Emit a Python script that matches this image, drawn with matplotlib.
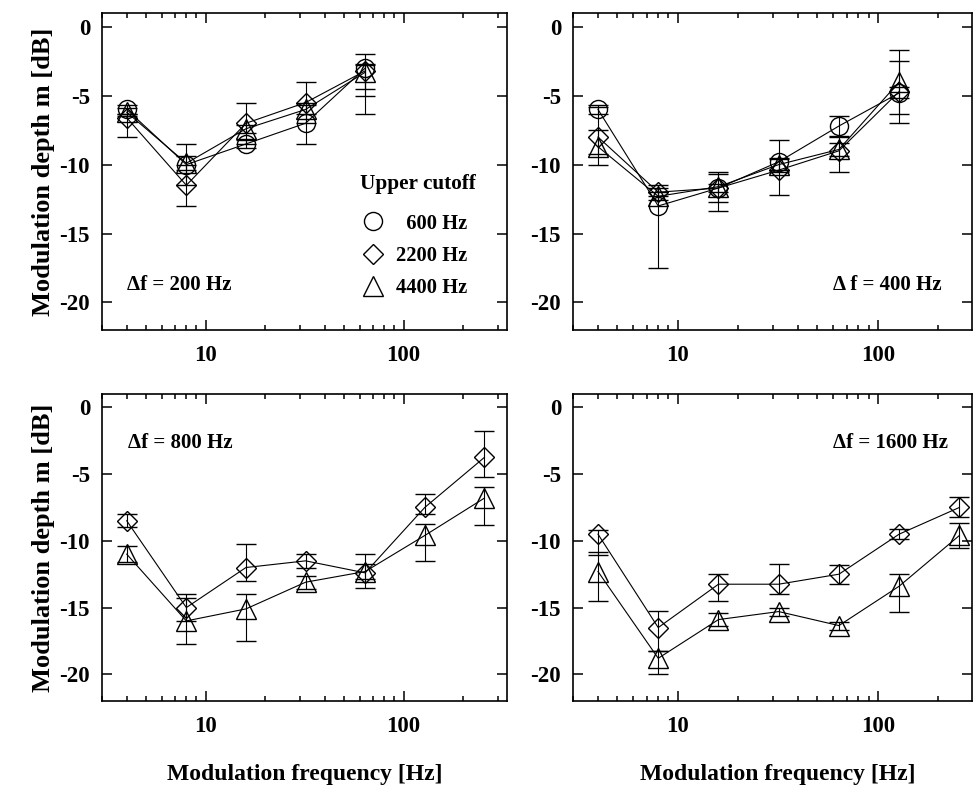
import numpy as np
import matplotlib
matplotlib.use('Agg')
import matplotlib.pyplot as plt
from matplotlib.lines import Line2D
from matplotlib.ticker import LogLocator, NullFormatter

plt.rcParams['font.family'] = ['Liberation Serif', 'DejaVu Serif']
plt.rcParams['font.weight'] = 'bold'
plt.rcParams['axes.labelweight'] = 'bold'
plt.rcParams['axes.unicode_minus'] = False

# modulation frequencies [Hz]
freqs_200 = [4, 8, 16, 32, 64]
freqs_400 = [4, 8, 16, 32, 64, 128]
freqs_hi = [4, 8, 16, 32, 64, 128, 256]

# delta f = 200 Hz
m200_600 = [-6.0, -10.0, -8.5, -7.0, -3.0]
m200_2200 = [-6.6, -11.5, -7.0, -5.5, -3.2]
m200_4400 = [-6.2, -9.9, -7.4, -6.0, -3.3]
e200_600_lo = [0.3, 1.5, 0.3, 1.5, 1.5]
e200_600_hi = [0.3, 1.5, 0.3, 1.5, 1.0]
e200_2200_lo = [1.4, 1.5, 1.5, 1.5, 1.8]
e200_2200_hi = [0.3, 1.5, 1.5, 1.5, 0.5]
e200_4400_lo = [0.3, 0.5, 0.3, 0.3, 3.0]
e200_4400_hi = [0.3, 0.5, 0.3, 0.3, 0.5]

# delta f = 400 Hz
m400_600 = [-6.0, -13.0, -11.7, -9.8, -7.2, -4.8]
m400_2200 = [-8.0, -12.0, -11.7, -10.4, -9.0, -4.7]
m400_4400 = [-8.7, -12.3, -11.6, -10.0, -8.9, -4.0]
e400_600_lo = [0.3, 4.5, 0.3, 0.6, 0.7, 0.4]
e400_600_hi = [0.3, 1.5, 0.3, 1.6, 0.7, 0.4]
e400_2200_lo = [1.2, 0.3, 1.0, 1.8, 1.5, 2.3]
e400_2200_hi = [0.5, 0.3, 1.0, 0.8, 1.0, 2.2]
e400_4400_lo = [1.3, 0.3, 1.8, 0.5, 0.5, 2.3]
e400_4400_hi = [2.9, 0.3, 1.1, 0.5, 0.5, 2.3]

# delta f = 800 Hz
m800_2200 = [-8.5, -15.0, -12.0, -11.5, -12.4, -7.5, -3.75]
m800_4400 = [-11.0, -16.0, -15.1, -13.1, -12.3, -9.6, -6.8]
e800_2200_lo = [0.5, 1.0, 1.0, 0.5, 1.1, 0.5, 1.5]
e800_2200_hi = [0.5, 1.0, 1.75, 0.5, 1.4, 1.0, 2.0]
e800_4400_lo = [0.6, 1.75, 2.4, 0.5, 0.55, 1.9, 2.0]
e800_4400_hi = [0.6, 1.75, 1.1, 0.5, 0.55, 0.85, 0.8]

# delta f = 1600 Hz
m1600_2200 = [-9.5, -16.5, -13.25, -13.25, -12.5, -9.5, -7.5]
m1600_4400 = [-12.3, -18.8, -15.9, -15.3, -16.35, -13.4, -9.6]
e1600_2200_lo = [1.55, 1.75, 1.25, 0.75, 0.7, 0.4, 0.75]
e1600_2200_hi = [0.3, 1.25, 0.75, 1.5, 0.7, 0.4, 0.75]
e1600_4400_lo = [2.2, 1.2, 0.5, 0.3, 0.3, 1.9, 0.9]
e1600_4400_hi = [1.5, 0.55, 0.5, 0.3, 0.3, 0.9, 0.9]

y_ticks = [0, -5, -10, -15, -20]
y_tick_labels = ['0', '-5', '-10', '-15', '-20']
cutoff_labels = ['  600 Hz', '2200 Hz', '4400 Hz']

TICK_FS = 16.5
TEXT_FS = 15.0
marker_style = {
    'o': dict(marker='o', ms=13),
    'D': dict(marker='D', ms=10),
    '^': dict(marker='^', ms=14),
}


def style_axes(ax, xmax):
    ax.set_xscale('log')
    ax.set_xlim(3, xmax)
    ax.set_ylim(-22, 1)
    ax.set_xticks([10, 100])
    ax.set_xticklabels(['10', '100'])
    ax.xaxis.set_minor_locator(LogLocator(base=10, subs=np.arange(2, 10)))
    ax.xaxis.set_minor_formatter(NullFormatter())
    ax.set_yticks(y_ticks)
    ax.set_yticklabels(y_tick_labels)
    ax.tick_params(which='both', direction='in', top=True, right=True, width=1.1)
    ax.tick_params(which='major', length=7.2, labelsize=TICK_FS)
    ax.tick_params(which='minor', length=3.6)
    ax.tick_params(axis='x', pad=11)
    ax.tick_params(axis='y', pad=8.6)
    for s in ax.spines.values():
        s.set_linewidth(1.2)


def draw(ax, x, y, lo, hi, mk):
    ax.errorbar(x, y, yerr=[lo, hi], mfc='none', mec='k', mew=1.0,
                color='k', lw=0.8, elinewidth=0.8, capsize=7.5, capthick=0.8,
                **marker_style[mk])


fig = plt.figure(figsize=(9.73, 7.9), dpi=100)
W, H = 973.0, 790.0

ax1 = fig.add_axes([102 / W, 460 / H, 405 / W, 317 / H])
ax2 = fig.add_axes([573 / W, 460 / H, 399 / W, 317 / H])
ax3 = fig.add_axes([102 / W, 89 / H, 405 / W, 307 / H])
ax4 = fig.add_axes([573 / W, 89 / H, 399 / W, 307 / H])

# top left
style_axes(ax1, 333)
draw(ax1, freqs_200, m200_600, e200_600_lo, e200_600_hi, 'o')
draw(ax1, freqs_200, m200_2200, e200_2200_lo, e200_2200_hi, 'D')
draw(ax1, freqs_200, m200_4400, e200_4400_lo, e200_4400_hi, '^')
ax1.text(0.062, 0.142, 'Δf = 200 Hz', transform=ax1.transAxes,
         ha='left', va='center', fontsize=TEXT_FS)

# legend: title as its own text so the gap under it can be set
ax1.text(0.637, 0.461, 'Upper cutoff', transform=ax1.transAxes,
         ha='left', va='center', fontsize=15.3)
handles = [Line2D([], [], ls='none', mfc='none', mec='k', mew=1.0, **marker_style[m])
           for m in ['o', 'D', '^']]
ax1.legend(handles, cutoff_labels, loc='upper left',
           bbox_to_anchor=(0.637, 0.367), frameon=False, fontsize=14.8,
           handlelength=1.3, handletextpad=0.45, labelspacing=0.6,
           borderpad=0, borderaxespad=0)

# top right
style_axes(ax2, 296)
draw(ax2, freqs_400, m400_600, e400_600_lo, e400_600_hi, 'o')
draw(ax2, freqs_400, m400_2200, e400_2200_lo, e400_2200_hi, 'D')
draw(ax2, freqs_400, m400_4400, e400_4400_lo, e400_4400_hi, '^')
ax2.text(0.652, 0.142, 'Δ f = 400 Hz', transform=ax2.transAxes,
         ha='left', va='center', fontsize=TEXT_FS)

# bottom left
style_axes(ax3, 333)
draw(ax3, freqs_hi, m800_2200, e800_2200_lo, e800_2200_hi, 'D')
draw(ax3, freqs_hi, m800_4400, e800_4400_lo, e800_4400_hi, '^')
ax3.text(0.064, 0.84, 'Δf = 800 Hz', transform=ax3.transAxes,
         ha='left', va='center', fontsize=TEXT_FS)

# bottom right
style_axes(ax4, 296)
draw(ax4, freqs_hi, m1600_2200, e1600_2200_lo, e1600_2200_hi, 'D')
draw(ax4, freqs_hi, m1600_4400, e1600_4400_lo, e1600_4400_hi, '^')
ax4.text(0.652, 0.84, 'Δf = 1600 Hz', transform=ax4.transAxes,
         ha='left', va='center', fontsize=TEXT_FS)

# axis titles
for ax in [ax1, ax3]:
    ax.set_ylabel('Modulation depth m [dB]', fontsize=19)
    ax.yaxis.set_label_coords(-0.117, 0.5)
ax3.set_xlabel('Modulation frequency [Hz]', fontsize=17)
ax3.xaxis.set_label_coords(0.5, -0.205)
ax4.set_xlabel('Modulation frequency [Hz]', fontsize=17)
ax4.xaxis.set_label_coords(0.513, -0.205)

fig.savefig('out.png', dpi=100)
